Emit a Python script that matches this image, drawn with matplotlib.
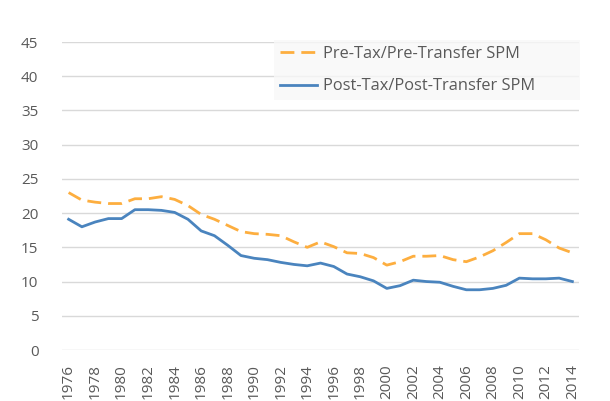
import numpy as np
import matplotlib
matplotlib.use("Agg")
import matplotlib.pyplot as plt

# ── data ──────────────────────────────────────────
YEARS = list(range(1976, 2015))
PRE_SPM = [23.0, 21.9, 21.6, 21.4, 21.4, 22.1, 22.1, 22.4, 22.0, 21.1,
           19.8, 19.1, 18.2, 17.3, 17.0, 16.9, 16.7, 15.8, 15.0, 15.8,
           15.1, 14.2, 14.1, 13.5, 12.4, 12.9, 13.7, 13.7, 13.8, 13.2,
           12.9, 13.6, 14.5, 15.7, 17.0, 17.0, 16.1, 14.9, 14.2]
POST_SPM = [19.1, 18.0, 18.7, 19.2, 19.2, 20.5, 20.5, 20.4, 20.1, 19.1,
            17.4, 16.7, 15.3, 13.8, 13.4, 13.2, 12.8, 12.5, 12.3, 12.7,
            12.2, 11.1, 10.7, 10.1, 9.0, 9.4, 10.2, 10.0, 9.9, 9.3,
            8.8, 8.8, 9.0, 9.45, 10.5, 10.4, 10.4, 10.5, 10.0]
LABELS = ["Pre-Tax/Pre-Transfer SPM", "Post-Tax/Post-Transfer SPM"]

ORANGE = "#FDAE3F"
BLUE = "#4A84BE"
GRID = "#D9D9D9"
TXT = "#595959"

plt.rcParams["font.family"] = ["Open Sans", "DejaVu Sans"]

W, H = 610, 401
fig = plt.figure(figsize=(W / 100, H / 100), dpi=100)
ax = fig.add_axes([62 / W, 1 - 350 / H, 517 / W, 308 / H])

ax.plot(YEARS, PRE_SPM, color=ORANGE, lw=2, ls=(0, (5, 2.5)), label=LABELS[0])
ax.plot(YEARS, POST_SPM, color=BLUE, lw=2, label=LABELS[1])

ax.set_xlim(1975.5, 2014.5)
ax.set_ylim(0, 45)
ax.set_yticks(range(0, 46, 5))
ax.set_xticks(YEARS[::2])
ax.set_xticklabels([str(y) for y in YEARS[::2]], rotation=90)
ax.grid(axis="y", color=GRID, lw=1)
ax.set_axisbelow(True)
for s in ax.spines.values():
    s.set_visible(False)
ax.tick_params(length=0, colors=TXT, labelsize=11)
ax.tick_params(axis="y", pad=17)
ax.tick_params(axis="x", pad=10)

# legend box sits under the top gridline, right side of the plot
leg = fig.legend(loc="lower left", mode="expand",
                 bbox_to_anchor=(274 / W, 1 - 100 / H, 306 / W, 57 / H),
                 frameon=True, fontsize=11.8, handlelength=2.3,
                 handletextpad=0.35, labelcolor=TXT, borderpad=0.35,
                 labelspacing=1.0, fancybox=False, borderaxespad=0)
leg.get_frame().set_facecolor("#F8F8F8")
leg.get_frame().set_edgecolor("none")

fig.savefig("out.png", dpi=100)
